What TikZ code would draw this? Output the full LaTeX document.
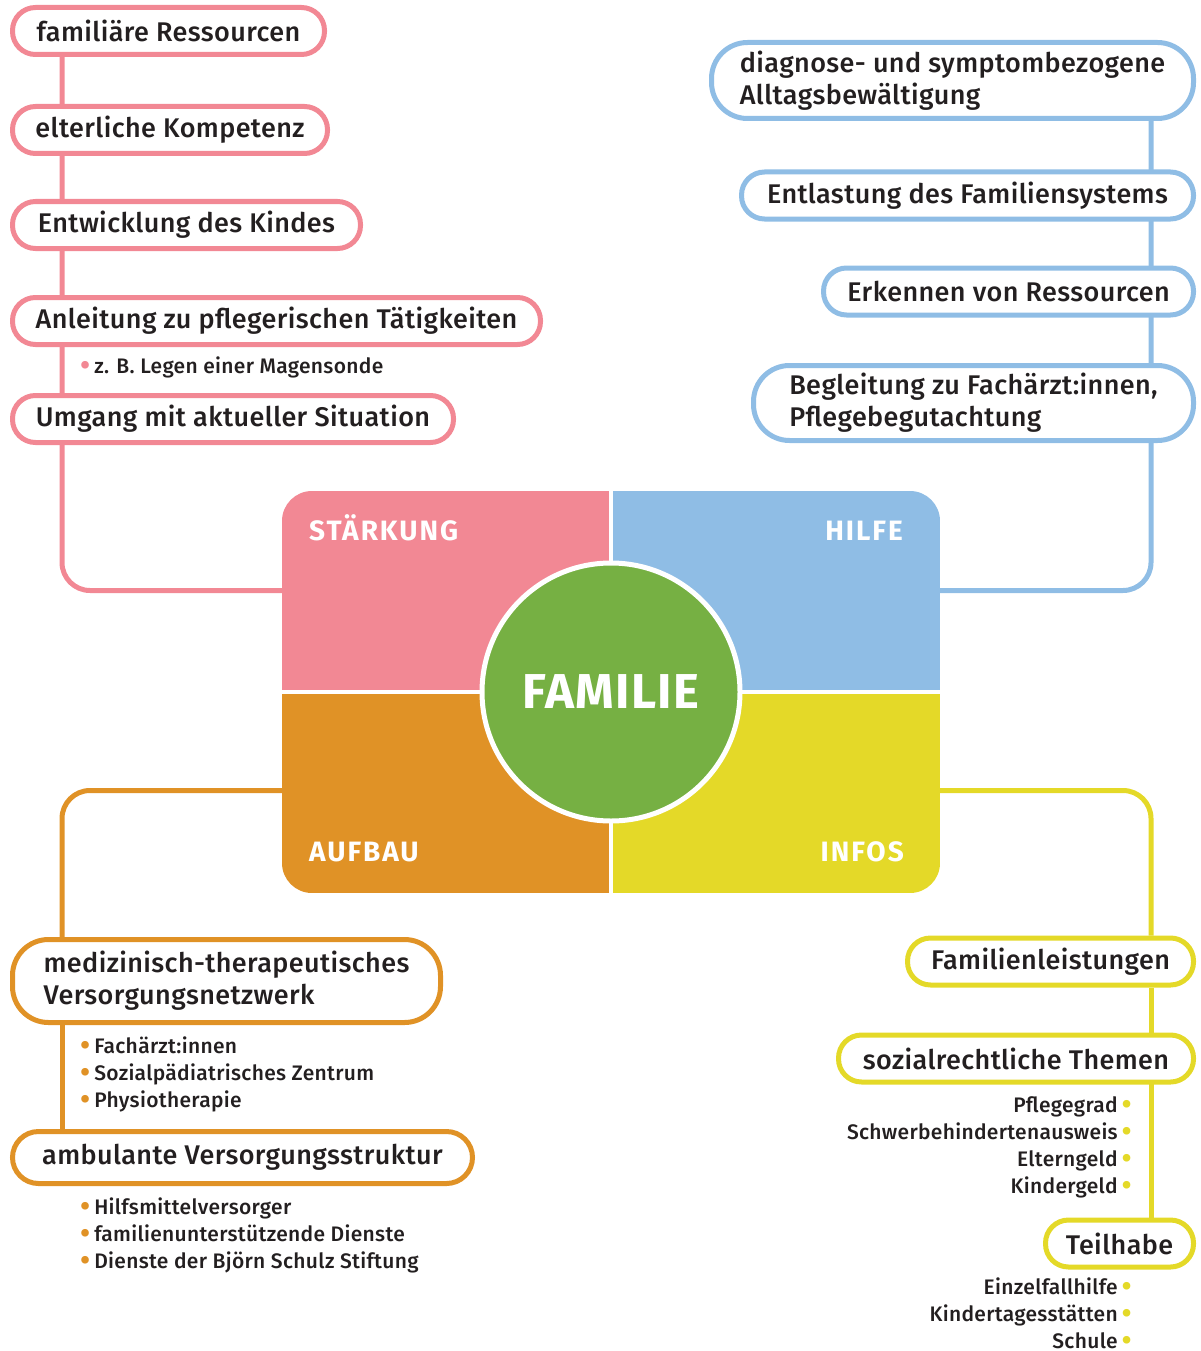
\documentclass[tikz,border=0pt]{standalone}
\usepackage{fontspec}
\IfFontExistsTF{Fira Sans Medium}
  {\setmainfont{Fira Sans}[UprightFont={Fira Sans Medium}, BoldFont={Fira Sans Bold}]}
  {\setmainfont{Fira Sans}}
\usepackage{xcolor}
\usepackage{tikz}
\usetikzlibrary{backgrounds}

\definecolor{pinkc}{HTML}{F28894}
\definecolor{bluec}{HTML}{8FBDE5}
\definecolor{orangec}{HTML}{E09226}
\definecolor{yellowc}{HTML}{E4D928}
\definecolor{greenc}{HTML}{76B043}
\definecolor{inkc}{HTML}{231F20}

\newcommand{\dotc}[1]{\smash{{\color{#1}\fontsize{30}{27}\selectfont\raisebox{-2pt}{\textbullet}}}}
\newcommand{\lbul}[1]{\dotc{#1}\hspace{4pt}}
\newcommand{\rbul}[1]{\hspace{4pt}\dotc{#1}}

\begin{document}
\begin{tikzpicture}[
    x=1pt, y=-1pt,
    topic/.style={
        draw,
        line width=5pt,
        fill=white,
        rounded corners=23pt,
        minimum height=47pt,
        inner sep=0pt,
        align=left,
        text=inkc,
        font=\fontsize{27}{32}\selectfont\addfontfeature{LetterSpace=1.5}
    },
    twoline/.style={
        rounded corners=36pt
    },
    quad/.style={
        inner sep=0pt,
        minimum width=327pt,
        minimum height=199pt
    },
    quadlabel/.style={
        text=white,
        inner sep=0pt,
        font=\fontsize{28}{28}\selectfont\bfseries\addfontfeature{LetterSpace=7}
    },
    items/.style={
        inner sep=0pt,
        text=inkc,
        font=\fontsize{21}{27}\selectfont\addfontfeature{LetterSpace=1.5}
    },
    link/.style={
        line width=5pt,
        rounded corners=28pt
    }
]
\useasboundingbox (0,0) rectangle (1200,1351);

\coordinate (trunkL) at (62,0);
\coordinate (trunkR) at (1151,0);

% Quadrants
\begin{scope}
    \clip[rounded corners=30pt] (282,491) rectangle (940,893);
    \node[quad, fill=pinkc] (staerkung) at (445.5,590.5) {};
    \node[quad, fill=bluec] (hilfe) at (776.5,590.5) {};
    \node[quad, fill=orangec] (aufbau) at (445.5,793.5) {};
    \node[quad, fill=yellowc] (infos) at (776.5,793.5) {};
\end{scope}
\node[quadlabel, anchor=base west] (tstaerkung) at (309,540) {STÄRKUNG};
\node[quadlabel, anchor=base east] (thilfe) at (903,540) {HILFE};
\node[quadlabel, anchor=base west] (taufbau) at (309,861) {AUFBAU};
\node[quadlabel, anchor=base east] (tinfos) at (904,861) {INFOS};

\node[circle, fill=greenc, draw=white, line width=5pt, minimum size=258pt, text=white,
      font=\fontsize{49}{49}\selectfont\bfseries\addfontfeature{LetterSpace=3}] (familie) at (611,692) {FAMILIE};

% Staerkung
\node[topic, draw=pinkc, minimum width=312pt, anchor=west] (fam) at (10,31) {familiäre Ressourcen};
\node[topic, draw=pinkc, minimum width=315pt, anchor=west] (elt) at (10,130) {elterliche Kompetenz};
\node[topic, draw=pinkc, minimum width=348pt, anchor=west] (ent) at (10,225) {Entwicklung des Kindes};
\node[topic, draw=pinkc, minimum width=528pt, anchor=west] (anl) at (10,321) {Anleitung zu pflegerischen Tätigkeiten};
\node[topic, draw=pinkc, minimum width=441pt, anchor=west] (umg) at (10,419) {Umgang mit aktueller Situation};
\node[items, anchor=base west] (anlitems) at (80,373) {\lbul{pinkc}z. B. Legen einer Magensonde};

% Hilfe
\node[topic, twoline, draw=bluec, minimum width=482pt, minimum height=76pt, anchor=east] (diag) at (1196,80.5)
    {diagnose- und symptombezogene\\Alltagsbewältigung};
\node[topic, draw=bluec, minimum width=452pt, anchor=east] (entl) at (1196,195.5) {Entlastung des Familiensystems};
\node[topic, draw=bluec, minimum width=370pt, anchor=east] (erk) at (1196,291.5) {Erkennen von Ressourcen};
\node[topic, twoline, draw=bluec, minimum width=440pt, minimum height=75pt, anchor=east] (begl) at (1196,403)
    {Begleitung zu Fachärzt:innen,\\Pflegebegutachtung};

% Aufbau
\node[topic, twoline, draw=orangec, minimum width=428pt, minimum height=83pt, anchor=west] (med) at (10,981)
    {medizinisch-therapeutisches\\Versorgungsnetzwerk};
\node[items, anchor=base west, align=left] (meditems) at (80,1107)
    {\lbul{orangec}Fachärzt:innen\\\lbul{orangec}Sozialpädiatrisches Zentrum\\\lbul{orangec}Physiotherapie};
\node[topic, draw=orangec, minimum width=460pt, minimum height=52pt, rounded corners=26pt, anchor=west] (amb) at (10,1157.5)
    {ambulante Versorgungsstruktur};
\node[items, anchor=base west, align=left] (ambitems) at (80,1268)
    {\lbul{orangec}Hilfsmittelversorger\\\lbul{orangec}familienunterstützende Dienste\\\lbul{orangec}Dienste der Björn Schulz Stiftung};

% Infos
\node[topic, draw=yellowc, minimum width=286pt, anchor=east] (famleist) at (1196,961.5) {Familienleistungen};
\node[topic, draw=yellowc, minimum width=355pt, anchor=east] (sozial) at (1196,1058.5) {sozialrechtliche Themen};
\node[items, anchor=base east, align=right] (sozitems) at (1132,1193)
    {Pflegegrad\rbul{yellowc}\\Schwerbehindertenausweis\rbul{yellowc}\\Elterngeld\rbul{yellowc}\\Kindergeld\rbul{yellowc}};
\node[topic, draw=yellowc, minimum width=148pt, anchor=east] (teilhabe) at (1196,1243.5) {Teilhabe};
\node[items, anchor=base east, align=right] (teilitems) at (1132,1348)
    {Einzelfallhilfe\rbul{yellowc}\\Kindertagesstätten\rbul{yellowc}\\Schule\rbul{yellowc}};

% Connectors
\begin{scope}[on background layer]
    \draw[link, pinkc] (fam.south -| trunkL) |- (staerkung.west);
    \draw[link, bluec] (diag.south -| trunkR) |- (hilfe.east);
    \draw[link, orangec] ([yshift=3pt]aufbau.west) -| (med.north -| trunkL);
    \draw[link, orangec] (med.south -| trunkL) -- (amb.north -| trunkL);
    \draw[link, yellowc] ([yshift=3pt]infos.east) -| (famleist.north -| trunkR);
    \draw[link, yellowc] (famleist.south -| trunkR) -- (teilhabe.north -| trunkR);
\end{scope}
\end{tikzpicture}
\end{document}
